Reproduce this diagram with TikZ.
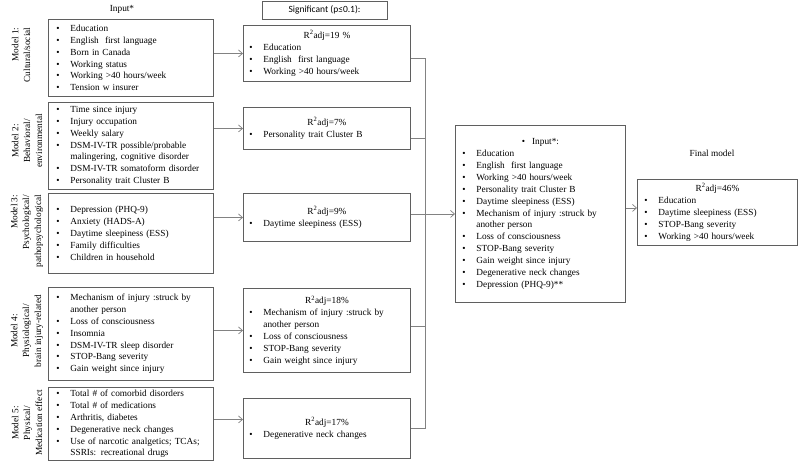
\documentclass[tikz,border=0pt]{standalone}
\usepackage{fontspec}
\setmainfont{Liberation Serif}
\newfontfamily\headfont{Carlito}
\usepackage{tikz}
\usetikzlibrary{arrows.meta}
\definecolor{boxgray}{RGB}{95,95,95}
\definecolor{linegray}{RGB}{130,130,130}
\newcommand{\bul}{\makebox[14pt][l]{\textbullet}}
\newcommand{\cont}{\hspace*{14pt}}
\newcommand{\radj}[1]{\makebox[\linewidth]{R\textsuperscript{2}adj=#1}}

\begin{document}
\begin{tikzpicture}[x=1pt,y=-1pt,
    every node/.style={font=\fontsize{9.3}{11.85}\selectfont},
    inbox/.style={draw=boxgray,line width=0.9pt,anchor=north west,align=left,inner ysep=2pt},
    modlabel/.style={rotate=90,align=center,inner sep=0pt},
    line/.style={draw=linegray,line width=0.7pt},
    arr/.style={line,-{Straight Barb[length=4pt,width=7pt,line width=0.7pt]}}]
        \useasboundingbox (0,0) rectangle (800,467);
        % headers
        \node (hin) at (122,9) {Input*};
        \node[draw=boxgray,line width=0.6pt,minimum width=125pt,minimum height=18pt,inner sep=0pt,font=\headfont\fontsize{9.5}{11}\selectfont] (hsig) at (324.5,10) {Significant (p≤0.1):};
        \node (hfin) at (712,153) {Final model};
        % model labels
        \node[modlabel,align=right] (l1) at (21,55) {Model 1:\\Cultural/social};
        \node[modlabel] (l2) at (27,141) {Model 2:\\Behavioral/\\environmental};
        \node[modlabel,align=right] (l3) at (27,231) {Model 3:\\Psychological/\\pathopsychological};
        \node[modlabel] (l4) at (27,331) {Model 4:\\Physiological/\\brain injury-related};
        \node[modlabel] (l5) at (27,423) {Model 5:\\Physical/\\Medication effect};
        % input boxes
        \node[inbox,inner xsep=8pt,text width=149pt,minimum height=77pt] (m1) at (48,19)
            {\bul Education\\ \bul English~ first language\\ \bul Born in Canada\\ \bul Working status\\ \bul Working >40 hours/week\\ \bul Tension w insurer};
        \node[inbox,inner xsep=8pt,text width=149pt,minimum height=87pt] (m2) at (48,102)
            {\bul Time since injury\\ \bul Injury occupation\\ \bul Weekly salary\\ \bul DSM-IV-TR possible/probable\\ \cont malingering, cognitive disorder\\ \bul DSM-IV-TR somatoform disorder\\ \bul Personality trait Cluster B};
        \node[inbox,inner xsep=8pt,text width=149pt,minimum height=80pt] (m3) at (48,193)
            {\bul Depression (PHQ-9)\\ \bul Anxiety (HADS-A)\\ \bul Daytime sleepiness (ESS)\\ \bul Family difficulties\\ \bul Children in household};
        \node[inbox,inner xsep=8pt,text width=149pt,minimum height=93pt] (m4) at (48,287)
            {\bul Mechanism of injury :struck by\\ \cont another person\\ \bul Loss of consciousness\\ \bul Insomnia\\ \bul DSM-IV-TR sleep disorder\\ \bul STOP-Bang severity\\ \bul Gain weight since injury};
        \node[inbox,inner xsep=8pt,text width=149pt,minimum height=73pt] (m5) at (48,387)
            {\bul Total \# of comorbid disorders\\ \bul Total \# of medications\\ \bul Arthritis, diabetes\\ \bul Degenerative neck changes\\ \bul Use of narcotic analgetics; TCAs;\\ \cont SSRIs: recreational drugs};
        % significant boxes
        \node[inbox,inner xsep=6pt,text width=155pt,minimum height=56pt] (s1) at (243,25)
            {\radj{19 \%}\\ \bul Education\\ \bul English~ first language\\ \bul Working >40 hours/week};
        \node[inbox,inner xsep=6pt,text width=155pt,minimum height=42pt] (s2) at (243,107)
            {\radj{7\%}\\ \bul Personality trait Cluster B};
        \node[inbox,inner xsep=6pt,text width=155pt,minimum height=48pt] (s3) at (243,193)
            {\radj{9\%}\\ \bul Daytime sleepiness (ESS)};
        \node[inbox,inner xsep=6pt,text width=155pt,minimum height=84pt] (s4) at (243,288)
            {\radj{18\%}\\ \bul Mechanism of injury :struck by\\ \cont another person\\ \bul Loss of consciousness\\ \bul STOP-Bang severity\\ \bul Gain weight since injury};
        \node[inbox,inner xsep=6pt,text width=155pt,minimum height=60pt] (s5) at (243,398)
            {\radj{17\%}\\ \bul Degenerative neck changes};
        % combined input and final model
        \node[inbox,inner xsep=7pt,text width=156pt,minimum height=177pt] (in) at (455,125)
            {\makebox[\linewidth]{\textbullet\hspace{7pt}Input*:}\\ \bul Education\\ \bul English~ first language\\ \bul Working >40 hours/week\\ \bul Personality trait Cluster B\\ \bul Daytime sleepiness (ESS)\\ \bul Mechanism of injury :struck by\\ \cont another person\\ \bul Loss of consciousness\\ \bul STOP-Bang severity\\ \bul Gain weight since injury\\ \bul Degenerative neck changes\\ \bul Depression (PHQ-9)**};
        \node[inbox,inner xsep=7pt,text width=146pt,minimum height=66pt] (fin) at (637,179)
            {\radj{46\%}\\ \bul Education\\ \bul Daytime sleepiness (ESS)\\ \bul STOP-Bang severity\\ \bul Working >40 hours/week};
        % arrows into the significant boxes
        \draw[arr] (m1.east |- s1.west) -- (s1.west);
        \draw[arr] (m2.east |- s2.west) -- (s2.west);
        \draw[arr] (m3.east |- s3.west) -- (s3.west);
        \draw[arr] (m4.east |- s4.west) -- (s4.west);
        \draw[arr] ([yshift=4.5pt]m5.east) -- ([yshift=4.5pt]m5.east -| s5.west);
        % collecting line
        \coordinate (bb) at (425,428);
        \coordinate (c2) at ([yshift=-10pt]s2.east);
        \coordinate (c4) at ([yshift=4pt]s4.east);
        \draw[line] ([yshift=-5pt]s1.east) -| (bb) -- (s5.east |- bb);
        \draw[line] (c2) -- (c2 -| bb);
        \draw[line] (c4) -- (c4 -| bb);
        \draw[arr] (s3.east |- in.west) -- (in.west);
        \draw[arr] ([yshift=6pt]in.east) -- ([yshift=6pt]in.east -| fin.west);
    \end{tikzpicture}
\end{document}
